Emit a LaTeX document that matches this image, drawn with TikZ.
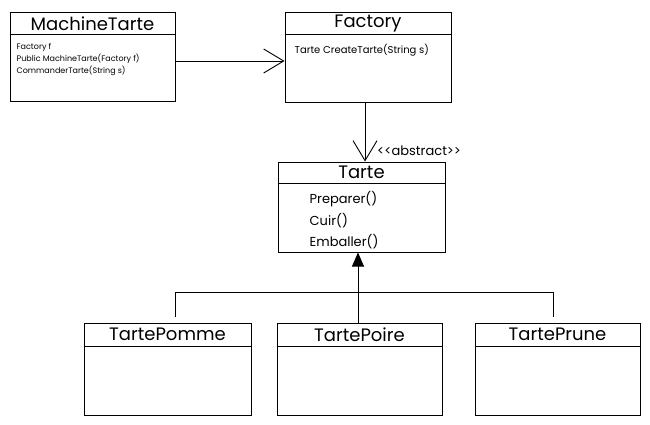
\documentclass[tikz,border=0pt]{standalone}
\usepackage{fontspec}
\setmainfont{Poppins}
\usetikzlibrary{positioning}
\usetikzlibrary{arrows.meta}
\tikzset{classbox/.style={ % outer frame of a class
			draw,
			line width=1pt,
			minimum width=165pt,
			minimum height=90pt,
			inner sep=0pt},
		classtitle/.style={font=\fontsize{18}{18}\selectfont, inner sep=0pt},
		classbody/.style={anchor=north west, align=left, inner sep=0pt},
		uses/.style={-{Straight Barb[length=20pt,width=24pt,line width=0.9pt]}, line width=0.9pt},
		extends/.style={-{Triangle[length=14pt,width=12pt]}, line width=0.9pt}}

\begin{document}
\begin{tikzpicture}[x=1pt,y=-1pt]
			\useasboundingbox (0,0) rectangle (650,425);
			% classes
			\node[classbox, minimum height=89pt] (machine) at (92.5,57.5) {};
			\node[classbox, minimum width=166pt] (factory) at (368,58) {};
			\node[classbox, minimum width=167pt] (tarte) at (361.5,207) {};
			\node[classbox, minimum width=167pt, minimum height=92pt] (pomme) at (167.5,369) {};
			\node[classbox, minimum height=92pt] (poire) at (359.5,369) {};
			\node[classbox, minimum height=92pt] (prune) at (557.5,369) {};
			
			% titles and dividers
			\foreach \cls/\name/\h in {machine/MachineTarte/22, factory/Factory/22, tarte/Tarte/22,
				pomme/TartePomme/24, poire/TartePoire/24, prune/TartePrune/24} {
				\node[classtitle] (\cls-title) at ([yshift=-\h/2 pt]\cls.north) {\name};
				\draw[line width=1pt] ([yshift=-\h pt]\cls.north west) -- ([yshift=-\h pt]\cls.north east);
			}
			
			% members
			\node[classbody, font=\fontsize{8}{12}\selectfont] (machine-body) at ([xshift=7pt,yshift=-31pt]machine.north west)
				{Factory f\\Public MachineTarte(Factory f)\\CommanderTarte(String s)};
			\node[classbody, font=\fontsize{10}{12}\selectfont] (factory-body) at ([xshift=10pt,yshift=-31pt]factory.north west)
				{Tarte CreateTarte(String s)};
			\node[classbody, font=\fontsize{13}{21.5}\selectfont] (tarte-body) at ([xshift=32pt,yshift=-30pt]tarte.north west)
				{Preparer()\\Cuir()\\Emballer()};
			\node[anchor=west, inner sep=0pt, font=\fontsize{13}{13}\selectfont] (abstract) at (377,151) {{<}{<}abstract{>}{>}};
			
			% associations
			\draw[uses] (machine.east |- 0,61) -- (factory.west |- 0,61);
			\draw[uses] (factory.south -| 365,0) -- (tarte.north -| 365,0);
			
			% inheritance
			\coordinate (barleft) at (175,292);
			\coordinate (barright) at (553,292);
			\coordinate (pommehook) at (175,317);
			\coordinate (prunehook) at (553,317);
			\draw[line width=0.9pt] (pommehook) -- (barleft) -- (barright) -- (prunehook);
			\draw[extends] (poire.north -| 358,0) -- (tarte.south -| 358,0);
		\end{tikzpicture}
\end{document}
